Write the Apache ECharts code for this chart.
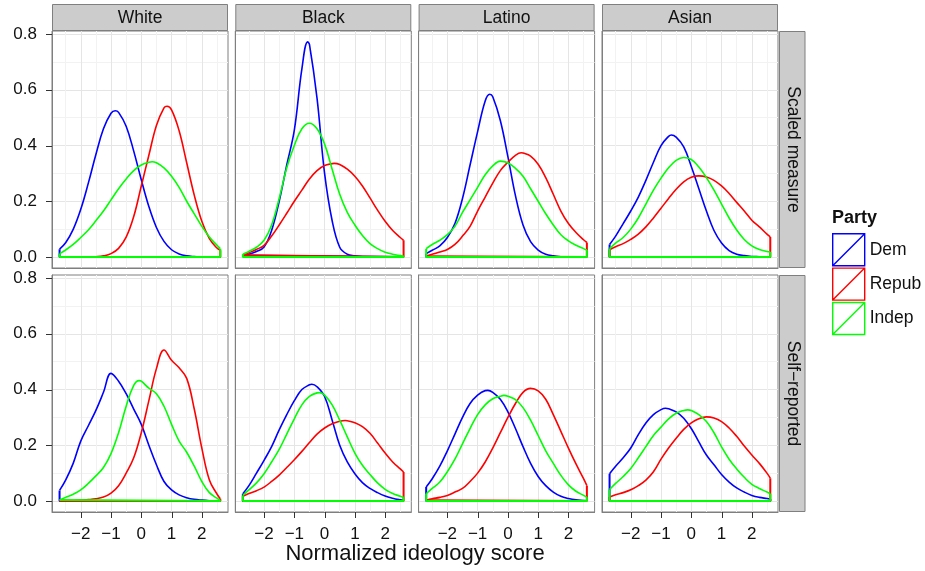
<!DOCTYPE html>
<html>
<head>
<meta charset="utf-8">
<script src="https://cdn.jsdelivr.net/npm/echarts@6/dist/echarts.min.js"></script>
<style>
html, body { margin: 0; padding: 0; background: #fff; }
#chart { width: 925px; height: 571px; }
</style>
</head>
<body>
<div id="chart"></div>
<script>
var xs = [-2.7, -2.5, -2.25, -2, -1.75, -1.5, -1.25, -1, -0.75, -0.5, -0.25, 0, 0.25, 0.5, 0.75, 1, 1.25, 1.5, 1.75, 2, 2.25, 2.5, 2.61];

var races = ['White', 'Black', 'Latino', 'Asian'];
var measures = ['Scaled measure', 'Self\u2212reported'];
var parties = ['Dem', 'Repub', 'Indep'];
var xTicks = [-2, -1, 0, 1, 2];
var xMinor = [-2.5, -1.5, -0.5, 0.5, 1.5, 2.5];
var yTicks = [0, 0.2, 0.4, 0.6, 0.8];
var yMinor = [0.1, 0.3, 0.5, 0.7];

// Scaled measure
var whiteScaledDem = [0.028, 0.051, 0.099, 0.171, 0.265, 0.368, 0.460, 0.516, 0.519, 0.469, 0.380, 0.277, 0.181, 0.106, 0.056, 0.026, 0.011, 0.004, 0.0015, 0.0005, 0, 0, 0];
var whiteScaledRep = [0, 0, 0, 0, 0, 0.001, 0.004, 0.012, 0.031, 0.071, 0.145, 0.255, 0.365, 0.472, 0.535, 0.528, 0.453, 0.338, 0.222, 0.128, 0.066, 0.032, 0.024];
var whiteScaledInd = [0.012, 0.025, 0.045, 0.07, 0.097, 0.13, 0.165, 0.205, 0.245, 0.28, 0.31, 0.33, 0.34, 0.338, 0.32, 0.29, 0.25, 0.2, 0.155, 0.11, 0.072, 0.042, 0.03];

var blackScaledDem = [0.005, 0.01, 0.02, 0.036, 0.095, 0.2, 0.33, 0.455, 0.675, 0.763, 0.57, 0.3, 0.13, 0.035, 0.01, 0.004, 0.001, 0, 0, 0, 0, 0, 0];
var blackScaledRep = [0.006, 0.015, 0.027, 0.042, 0.075, 0.115, 0.157, 0.2, 0.24, 0.28, 0.31, 0.328, 0.335, 0.332, 0.315, 0.29, 0.255, 0.212, 0.168, 0.128, 0.095, 0.07, 0.06];
var blackScaledInd = [0.01, 0.02, 0.035, 0.06, 0.115, 0.21, 0.32, 0.4, 0.46, 0.48, 0.46, 0.405, 0.315, 0.225, 0.16, 0.115, 0.077, 0.048, 0.03, 0.017, 0.01, 0.005, 0.003];

var latinoScaledDem = [0.012, 0.024, 0.04, 0.07, 0.12, 0.21, 0.33, 0.45, 0.56, 0.575, 0.49, 0.36, 0.22, 0.115, 0.055, 0.025, 0.01, 0.004, 0.001, 0, 0, 0, 0];
var latinoScaledRep = [0.003, 0.01, 0.018, 0.027, 0.045, 0.075, 0.11, 0.165, 0.215, 0.265, 0.31, 0.34, 0.365, 0.373, 0.362, 0.333, 0.285, 0.225, 0.165, 0.12, 0.088, 0.062, 0.052];
var latinoScaledInd = [0.03, 0.045, 0.06, 0.08, 0.11, 0.16, 0.205, 0.25, 0.295, 0.327, 0.344, 0.338, 0.318, 0.29, 0.245, 0.2, 0.155, 0.115, 0.08, 0.058, 0.042, 0.03, 0.025];

var asianScaledDem = [0.045, 0.075, 0.12, 0.165, 0.215, 0.275, 0.34, 0.4, 0.433, 0.43, 0.395, 0.325, 0.245, 0.165, 0.095, 0.05, 0.023, 0.01, 0.005, 0.002, 0.001, 0, 0];
var asianScaledRep = [0.026, 0.037, 0.048, 0.063, 0.082, 0.108, 0.14, 0.175, 0.21, 0.243, 0.27, 0.286, 0.291, 0.287, 0.275, 0.255, 0.228, 0.196, 0.165, 0.132, 0.108, 0.082, 0.072];
var asianScaledInd = [0.03, 0.05, 0.07, 0.1, 0.14, 0.19, 0.24, 0.283, 0.32, 0.347, 0.357, 0.35, 0.323, 0.285, 0.24, 0.19, 0.14, 0.097, 0.063, 0.04, 0.027, 0.02, 0.018];

// Self-reported
var whiteSelfDem = [0.038, 0.075, 0.135, 0.215, 0.27, 0.325, 0.39, 0.458, 0.43, 0.385, 0.33, 0.275, 0.2, 0.13, 0.07, 0.04, 0.022, 0.012, 0.006, 0.003, 0.001, 0, 0];
var whiteSelfRep = [0, 0, 0.001, 0.003, 0.005, 0.008, 0.014, 0.028, 0.055, 0.1, 0.155, 0.245, 0.36, 0.475, 0.542, 0.505, 0.478, 0.44, 0.33, 0.19, 0.075, 0.025, 0.008];
var whiteSelfInd = [0.004, 0.013, 0.024, 0.04, 0.063, 0.09, 0.12, 0.17, 0.245, 0.34, 0.415, 0.43, 0.405, 0.385, 0.34, 0.275, 0.215, 0.175, 0.125, 0.07, 0.03, 0.01, 0.003];

var blackSelfDem = [0.026, 0.055, 0.1, 0.146, 0.195, 0.255, 0.31, 0.36, 0.4, 0.417, 0.41, 0.375, 0.29, 0.2, 0.14, 0.098, 0.066, 0.045, 0.03, 0.018, 0.01, 0.004, 0.002];
var blackSelfRep = [0.017, 0.027, 0.037, 0.05, 0.07, 0.093, 0.12, 0.148, 0.178, 0.21, 0.24, 0.262, 0.277, 0.286, 0.288, 0.281, 0.267, 0.243, 0.208, 0.172, 0.14, 0.115, 0.104];
var blackSelfInd = [0.02, 0.04, 0.065, 0.098, 0.14, 0.185, 0.24, 0.295, 0.345, 0.375, 0.388, 0.38, 0.345, 0.29, 0.23, 0.172, 0.128, 0.095, 0.065, 0.042, 0.027, 0.017, 0.013];

var latinoSelfDem = [0.05, 0.08, 0.125, 0.18, 0.24, 0.3, 0.35, 0.38, 0.396, 0.39, 0.365, 0.32, 0.26, 0.195, 0.135, 0.088, 0.055, 0.032, 0.017, 0.009, 0.004, 0.002, 0.001];
var latinoSelfRep = [0.003, 0.008, 0.013, 0.02, 0.032, 0.045, 0.07, 0.1, 0.14, 0.19, 0.245, 0.3, 0.35, 0.39, 0.404, 0.395, 0.365, 0.31, 0.25, 0.19, 0.133, 0.08, 0.055];
var latinoSelfInd = [0.026, 0.045, 0.068, 0.105, 0.15, 0.205, 0.26, 0.31, 0.345, 0.367, 0.376, 0.376, 0.364, 0.335, 0.29, 0.235, 0.18, 0.135, 0.092, 0.058, 0.035, 0.02, 0.013];

var asianSelfDem = [0.098, 0.125, 0.155, 0.19, 0.238, 0.28, 0.31, 0.328, 0.331, 0.32, 0.297, 0.26, 0.212, 0.165, 0.13, 0.095, 0.068, 0.047, 0.032, 0.02, 0.013, 0.009, 0.007];
var asianSelfRep = [0.014, 0.022, 0.03, 0.04, 0.055, 0.075, 0.105, 0.15, 0.19, 0.225, 0.257, 0.28, 0.295, 0.302, 0.298, 0.285, 0.262, 0.232, 0.197, 0.165, 0.135, 0.1, 0.082];
var asianSelfInd = [0.041, 0.063, 0.088, 0.117, 0.155, 0.195, 0.235, 0.265, 0.295, 0.315, 0.325, 0.325, 0.31, 0.285, 0.245, 0.194, 0.15, 0.115, 0.085, 0.06, 0.045, 0.032, 0.026];

// peak of each curve [x, density], in Dem / Repub / Indep order
var whiteScaledPeaks = [[-0.86, 0.525], [0.85, 0.541], [0.36, 0.342]];
var blackScaledPeaks = [[-0.56, 0.772], [0.32, 0.336], [-0.49, 0.481]];
var latinoScaledPeaks = [[-0.6, 0.584], [0.44, 0.374], [-0.22, 0.344]];
var asianScaledPeaks = [[-0.66, 0.438], [0.24, 0.291], [-0.25, 0.357]];
var whiteSelfPeaks = [[-1.0, 0.458], [0.74, 0.542], [-0.07, 0.432]];
var blackSelfPeaks = [[-0.42, 0.419], [0.68, 0.289], [-0.16, 0.389]];
var latinoSelfPeaks = [[-0.66, 0.397], [0.77, 0.404], [-0.13, 0.379]];
var asianSelfPeaks = [[-0.85, 0.333], [0.51, 0.302], [-0.12, 0.327]];

// panels in row order (row 0 = scaled, row 1 = self-reported)
var panels = [
    [whiteScaledDem, whiteScaledRep, whiteScaledInd],
    [blackScaledDem, blackScaledRep, blackScaledInd],
    [latinoScaledDem, latinoScaledRep, latinoScaledInd],
    [asianScaledDem, asianScaledRep, asianScaledInd],
    [whiteSelfDem, whiteSelfRep, whiteSelfInd],
    [blackSelfDem, blackSelfRep, blackSelfInd],
    [latinoSelfDem, latinoSelfRep, latinoSelfInd],
    [asianSelfDem, asianSelfRep, asianSelfInd]
];
var panelPeaks = [whiteScaledPeaks, blackScaledPeaks, latinoScaledPeaks, asianScaledPeaks,
    whiteSelfPeaks, blackSelfPeaks, latinoSelfPeaks, asianSelfPeaks];

var colors = ['#0000ff', '#ff0000', '#00ff00'];
var font = 'Liberation Sans';
var textColor = '#111';
var tickColor = '#333';
var tickLen = 6;
var xMin = -2.95, xMax = 2.865;
var yMin = -0.0395, yMax = 0.811;

var panelLeft = [52, 235.3, 418.6, 602];
var panelW = 176;
var rowTop = [31, 275];
var panelH = 237;

var myChart = echarts.init(document.getElementById('chart'));

var grids = [], xAxes = [], yAxes = [], series = [], graphics = [];

function fmtX(v) {
    return v < 0 ? '\u2212' + (-v) : String(v);
}

// curve points plus its peak (skipped when a grid point is already close)
function curvePoints(vals, peak) {
    var pts = xs.map(function (x, i) { return [x, vals[i]]; });
    var near = xs.some(function (x) { return Math.abs(x - peak[0]) < 0.06; });
    if (!near) {
        pts.push([peak[0], peak[1]]);
        pts.sort(function (a, b) { return a[0] - b[0]; });
    }
    return pts;
}

// grids 0..7: minor grid lines only; grids 8..15: the panels themselves
for (var p = 0; p < 8; p++) {
    var row = Math.floor(p / 4), col = p % 4;
    grids.push({ left: panelLeft[col], top: rowTop[row], width: panelW, height: panelH, show: false });
    xAxes.push({
        gridIndex: p, type: 'value', min: xMin, max: xMax,
        axisLine: { show: false, onZero: false },
        axisTick: { show: false, customValues: xMinor },
        axisLabel: { show: false, customValues: xMinor },
        splitLine: { show: true, lineStyle: { color: '#f2f2f2', width: 1 } }
    });
    yAxes.push({
        gridIndex: p, type: 'value', min: yMin, max: yMax,
        axisLine: { show: false, onZero: false },
        axisTick: { show: false, customValues: yMinor },
        axisLabel: { show: false, customValues: yMinor },
        splitLine: { show: true, lineStyle: { color: '#f2f2f2', width: 1 } }
    });
}

for (var p = 0; p < 8; p++) {
    var row = Math.floor(p / 4), col = p % 4;
    var bottomRow = row === 1, leftCol = col === 0;
    var g = 8 + p;
    grids.push({
        left: panelLeft[col], top: rowTop[row], width: panelW, height: panelH,
        show: true, borderColor: '#7f7f7f'
    });
    xAxes.push({
        gridIndex: g, type: 'value', min: xMin, max: xMax, position: 'bottom',
        axisLine: { show: true, onZero: false, lineStyle: { color: '#7f7f7f', width: 1 } },
        axisTick: { show: false, customValues: xTicks },
        axisLabel: { show: bottomRow, customValues: xTicks, margin: 14, formatter: fmtX,
            fontSize: 17, color: textColor, fontFamily: font },
        splitLine: { show: true, lineStyle: { color: '#e5e5e5', width: 1 } }
    });
    yAxes.push({
        gridIndex: g, type: 'value', min: yMin, max: yMax, position: 'left',
        axisLine: { show: true, onZero: false, lineStyle: { color: '#7f7f7f', width: 1 } },
        axisTick: { show: false, customValues: yTicks },
        axisLabel: { show: leftCol, customValues: yTicks, margin: 15,
            formatter: function (v) { return v.toFixed(1); },
            fontSize: 17, color: textColor, fontFamily: font },
        splitLine: { show: true, lineStyle: { color: '#e5e5e5', width: 1 } }
    });

    panels[p].forEach(function (vals, k) {
        var n = xs.length - 1;
        var common = {
            name: parties[k], type: 'line', xAxisIndex: g, yAxisIndex: g,
            symbol: 'none', showSymbol: false, silent: true, z: 3 + k,
            itemStyle: { color: colors[k] }
        };
        series.push(Object.assign({}, common, {
            data: curvePoints(vals, panelPeaks[p][k]),
            smooth: 0.4,
            lineStyle: { color: colors[k], width: 1.6 }
        }));
        // closing edges of the density polygon (down to baseline and across)
        series.push(Object.assign({}, common, {
            data: [[xs[0], vals[0]], [xs[0], 0], [xs[n], 0], [xs[n], vals[n]]],
            smooth: false,
            lineStyle: { color: colors[k], width: 2 }
        }));
    });
}

// strips on top
races.forEach(function (r, i) {
    graphics.push({
        type: 'rect', shape: { x: panelLeft[i] + 0.5, y: 4.5, width: panelW - 1, height: 26 },
        style: { fill: '#cccccc', stroke: '#7f7f7f', lineWidth: 1 }
    });
    graphics.push({
        type: 'text', x: panelLeft[i] + panelW / 2, y: 18,
        style: { text: r, fill: textColor, font: '17.5px "' + font + '"', align: 'center', verticalAlign: 'middle' }
    });
});
// strips on the right
measures.forEach(function (m, r) {
    graphics.push({
        type: 'rect', shape: { x: 779.5, y: rowTop[r] + 0.5, width: 25.5, height: panelH - 1 },
        style: { fill: '#cccccc', stroke: '#7f7f7f', lineWidth: 1 }
    });
    graphics.push({
        type: 'text', x: 792.5, y: rowTop[r] + panelH / 2, rotation: -Math.PI / 2,
        style: { text: m, fill: textColor, font: '17.5px "' + font + '"', align: 'center', verticalAlign: 'middle' }
    });
});
// x axis title
graphics.push({
    type: 'text', x: 415, y: 554,
    style: { text: 'Normalized ideology score', fill: textColor, font: '22px "' + font + '"', align: 'center', verticalAlign: 'middle' }
});

// axis ticks as thin filled rects, placed with the axes' own linear mapping
var xBottom = rowTop[1] + panelH;
[0, 1, 2, 3].forEach(function (col) {
    xTicks.forEach(function (t) {
        var px = Math.round(panelLeft[col] + (t - xMin) / (xMax - xMin) * panelW);
        graphics.push({ type: 'rect', z: 100,
            shape: { x: px, y: xBottom, width: 1, height: tickLen },
            style: { fill: tickColor } });
    });
});
[0, 1].forEach(function (row) {
    yTicks.forEach(function (t) {
        var py = Math.round(rowTop[row] + (yMax - t) / (yMax - yMin) * panelH);
        graphics.push({ type: 'rect', z: 100,
            shape: { x: panelLeft[0] - tickLen, y: py, width: tickLen, height: 1 },
            style: { fill: tickColor } });
    });
});

var option = {
    animation: false,
    backgroundColor: '#fff',
    textStyle: { fontFamily: font },
    title: {
        text: 'Party', left: 832, top: 209, padding: 0,
        textStyle: { fontSize: 18, fontWeight: 'bold', color: textColor, fontFamily: font }
    },
    legend: {
        orient: 'vertical', left: 832, top: 233, padding: 0,
        itemWidth: 32, itemHeight: 32, itemGap: 1,
        icon: 'path://M0,0L32,0L32,32L0,32ZM0,32L32,0',
        textStyle: { fontSize: 17.5, color: textColor, fontFamily: font },
        selectedMode: false,
        data: parties.map(function (name, k) {
            return { name: name, itemStyle: { color: 'rgba(0,0,0,0)', borderColor: colors[k], borderWidth: 1.4 } };
        })
    },
    grid: grids,
    xAxis: xAxes,
    yAxis: yAxes,
    series: series,
    graphic: { elements: graphics }
};

myChart.setOption(option);
</script>
</body>
</html>
